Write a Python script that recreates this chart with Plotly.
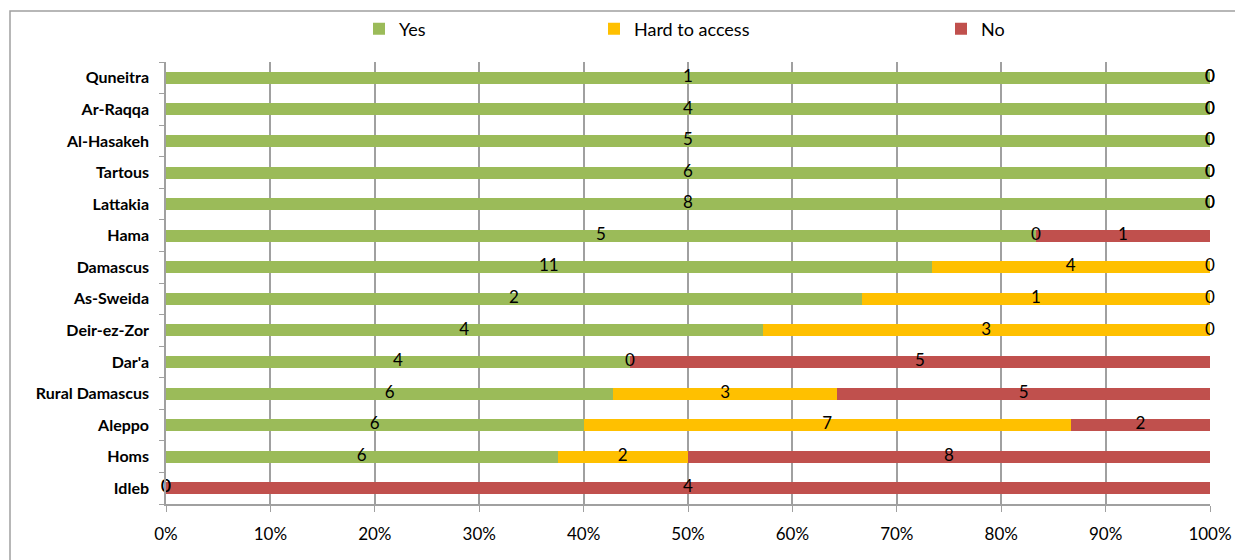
import plotly.graph_objects as go

categories = ["Idleb", "Homs", "Aleppo", "Rural Damascus", "Dar'a", "Deir-ez-Zor",
              "As-Sweida", "Damascus", "Hama", "Lattakia", "Tartous", "Al-Hasakeh",
              "Ar-Raqqa", "Quneitra"]
yes_vals = [0, 6, 6, 6, 4, 4, 2, 11, 5, 8, 6, 5, 4, 1]
hard_vals = [0, 2, 7, 3, 0, 3, 1, 4, 0, 0, 0, 0, 0, 0]
no_vals = [4, 8, 2, 5, 5, 0, 0, 0, 1, 0, 0, 0, 0, 0]

series = [("Yes", yes_vals, "#9BBB59"),
          ("Hard to access", hard_vals, "#FFC000"),
          ("No", no_vals, "#C0504D")]

FONT = "Lato"
L, R, T, B = 166, 25, 62, 56
W, H = 1235, 560
pw = W - L - R
ph = H - T - B

fig = go.Figure()
totals = [a + b + c for a, b, c in zip(yes_vals, hard_vals, no_vals)]
cum = [0.0] * len(categories)
legend_px = [359, 594, 941]
for i, (name, vals, color) in enumerate(series):
    lg = "legend" if i == 0 else f"legend{i+1}"
    fig.add_trace(go.Bar(
        y=categories, x=vals, name=name, orientation="h",
        marker=dict(color=color, line=dict(width=0)),
        legend=lg, hoverinfo="skip"))
    xs = []
    for j, v in enumerate(vals):
        p = 100.0 * v / totals[j]
        xs.append(cum[j] + p / 2)
        cum[j] += p
    fig.add_trace(go.Scatter(
        y=categories, x=xs, mode="text", text=[str(v) for v in vals],
        textposition="middle center", showlegend=False, hoverinfo="skip",
        cliponaxis=False,
        textfont=dict(family=FONT, size=17, color="#000000")))

layout_legends = {}
for i, px in enumerate(legend_px):
    key = "legend" if i == 0 else f"legend{i+1}"
    layout_legends[key] = dict(
        x=(px - L) / pw, xanchor="left",
        y=(H - B - 29) / ph, yanchor="middle",
        orientation="h", bgcolor="rgba(0,0,0,0)",
        font=dict(family=FONT, size=18, color="#000000"),
        itemwidth=30, tracegroupgap=0)

fig.update_layout(
    width=W, height=H,
    margin=dict(l=L, r=R, t=T, b=B, pad=0, autoexpand=False),
    paper_bgcolor="white", plot_bgcolor="white",
    barmode="stack", barnorm="percent", bargap=0.62,
    font=dict(family=FONT, color="#000000"),
    **layout_legends,
    xaxis=dict(range=[0, 100], dtick=10, ticksuffix="%",
               showgrid=True, gridcolor="#A0A0A0", gridwidth=1.5,
               showline=True, linecolor="#A0A0A0", linewidth=1.5,
               ticks="outside", ticklen=6, tickcolor="#A0A0A0",
               tickfont=dict(family=FONT, size=17, color="#000000"),
               ticklabelstandoff=8, automargin=False,
               zeroline=False, fixedrange=True),
    yaxis=dict(categoryorder="array", categoryarray=categories,
               showgrid=False, showline=True, linecolor="#A0A0A0", linewidth=1.5,
               ticks="outside", ticklen=5, tickcolor="#A0A0A0",
               tickson="boundaries", range=[-0.5, len(categories) - 0.5],
               tickfont=dict(family=FONT, size=16, color="#000000", weight="bold"),
               ticklabelstandoff=12, automargin=False, fixedrange=True),
    shapes=[dict(type="rect", xref="paper", yref="paper",
                 x0=(10 - L) / pw, x1=(W + 10 - L) / pw,
                 y0=-(B + 10) / ph, y1=(H - B - 11) / ph,
                 line=dict(color="#A0A0A0", width=1.5), fillcolor="rgba(0,0,0,0)",
                 layer="below")],
)

fig.write_html("out.html")
